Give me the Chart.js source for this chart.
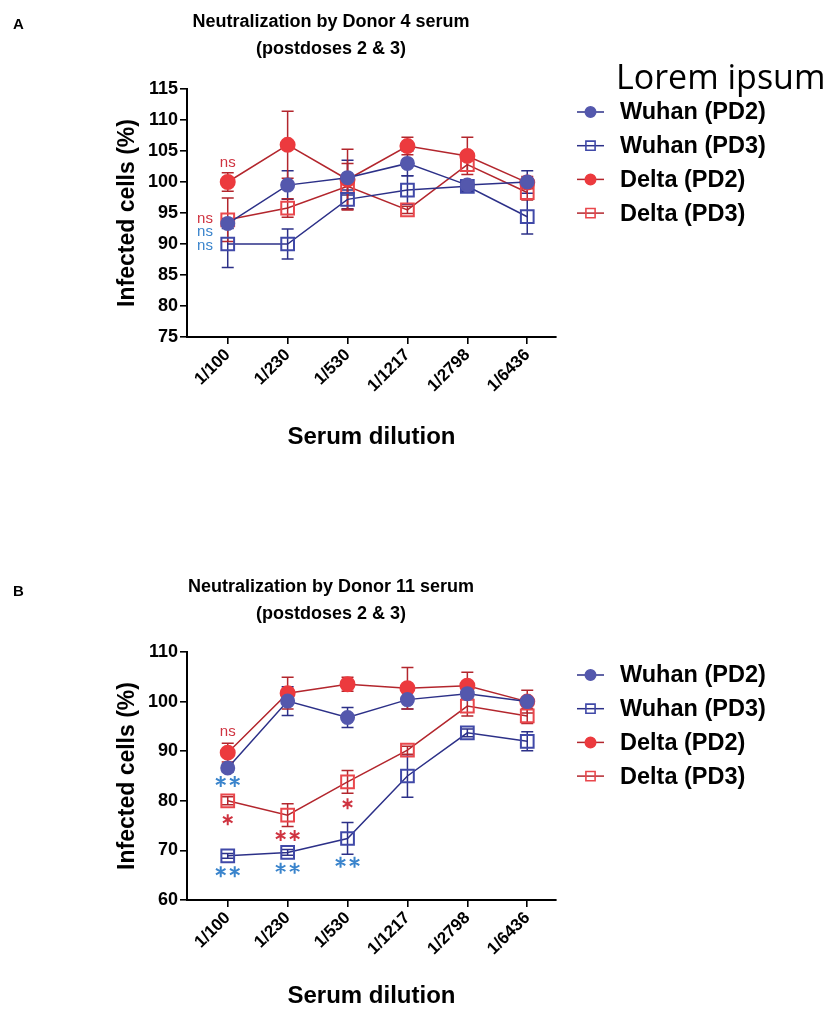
<!DOCTYPE html>
<html lang="en">
<head>
<meta charset="utf-8">
<title>Neutralization by Donor serum</title>
<script src="https://cdn.jsdelivr.net/npm/chart.js@4.4.1/dist/chart.umd.min.js"></script>
<style>
  html, body { margin: 0; padding: 0; background: #fff; }
  #wrap { position: relative; width: 831px; height: 1011px; }
  canvas { position: absolute; left: 0; }
  #panelA { top: 0; }
  #panelB { top: 500px; }
</style>
</head>
<body>
<div id="wrap">
  <canvas id="panelA" width="831" height="500"></canvas>
  <canvas id="panelB" width="831" height="511"></canvas>
</div>
<script>
// Categorías (diluciones) y nombres de series
const dilutions = ['1/100', '1/230', '1/530', '1/1217', '1/2798', '1/6436'];
const seriesNames = ['Wuhan (PD2)', 'Wuhan (PD3)', 'Delta (PD2)', 'Delta (PD3)'];

// Panel A - Donor 4
const yTicksA = [75, 80, 85, 90, 95, 100, 105, 110, 115];
const wuhanPD2A = [93.3, 99.5, 100.7, 103.0, 99.5, 100.0];
const wuhanPD2ErrA = [0.8, 2.3, 2.8, 2.0, 0.8, 1.8];
const wuhanPD3A = [90.0, 90.0, 97.2, 98.7, 99.3, 94.4];
const wuhanPD3ErrA = [3.8, 2.4, 1.5, 2.3, 0.8, 2.8];
const deltaPD2A = [100.0, 106.0, 100.4, 105.8, 104.2, 99.9];
const deltaPD2ErrA = [1.5, 5.4, 4.9, 1.4, 3.0, 1.0];
const deltaPD3A = [93.9, 95.8, 99.3, 95.5, 102.8, 98.3];
const deltaPD3ErrA = [3.5, 1.5, 3.7, 0.6, 1.0, 1.2];

// Panel B - Donor 11
const yTicksB = [60, 70, 80, 90, 100, 110];
const wuhanPD2B = [86.6, 100.1, 96.8, 100.4, 101.6, 100.0];
const wuhanPD2ErrB = [0.8, 2.9, 2.0, 1.9, 1.0, 0.8];
const wuhanPD3B = [68.9, 69.6, 72.4, 85.0, 93.7, 92.0];
const wuhanPD3ErrB = [0.5, 0.6, 3.2, 4.3, 0.8, 1.9];
const deltaPD2B = [89.7, 101.7, 103.5, 102.7, 103.2, 100.0];
const deltaPD2ErrB = [1.9, 3.2, 1.4, 4.2, 2.7, 2.3];
const deltaPD3B = [80.0, 77.1, 83.8, 90.2, 99.1, 97.1];
const deltaPD3ErrB = [0.8, 2.3, 2.3, 0.8, 2.0, 1.5];

// Anotaciones de significancia (x = índice de dilución, y = valor del eje)
const RED_TXT = '#cf3340';
const BLUE_TXT = '#3a84cc';
const notesA = [
  { x: 0, y: 103.1, text: 'ns', color: RED_TXT },
  { x: -0.38, y: 94.0, text: 'ns', color: RED_TXT },
  { x: -0.38, y: 92.0, text: 'ns', color: BLUE_TXT },
  { x: -0.38, y: 89.7, text: 'ns', color: BLUE_TXT }
];
const notesB = [
  { x: 0, y: 93.8, text: 'ns', color: RED_TXT },
  { x: 0, y: 83.9, text: '**', color: BLUE_TXT },
  { x: 0, y: 76.2, text: '*', color: RED_TXT },
  { x: 0, y: 65.7, text: '**', color: BLUE_TXT },
  { x: 1, y: 73.0, text: '**', color: RED_TXT },
  { x: 1, y: 66.4, text: '**', color: BLUE_TXT },
  { x: 2, y: 79.4, text: '*', color: RED_TXT },
  { x: 2, y: 67.6, text: '**', color: BLUE_TXT }
];

const FONT = '"Liberation Sans", Arial, Helvetica, sans-serif';
Chart.defaults.font.family = FONT;

// Estilos de cada serie
const seriesStyles = [
  { line: '#2c3088', point: '#5458ad', fill: '#5458ad', pointStyle: 'circle', radius: 6.5 },
  { line: '#2c3088', point: '#4049a8', fill: 'rgba(0,0,0,0)', pointStyle: 'rect', radius: 9 },
  { line: '#b3262d', point: '#ec3a3e', fill: '#ec3a3e', pointStyle: 'circle', radius: 7 },
  { line: '#b3262d', point: '#e9474c', fill: 'rgba(0,0,0,0)', pointStyle: 'rect', radius: 9 }
];

function buildDatasets(values, errors) {
  return values.map((vals, s) => {
    const st = seriesStyles[s];
    return {
      label: seriesNames[s],
      data: vals.map((v, i) => ({ x: i, y: v })),
      errors: errors[s],
      borderColor: st.line,
      borderWidth: 1.5,
      pointStyle: st.pointStyle,
      pointRadius: st.radius,
      pointHoverRadius: st.radius,
      pointBorderWidth: 2,
      pointBorderColor: st.point,
      pointBackgroundColor: st.fill,
      tension: 0,
      fill: false
    };
  });
}

// Plugin: barras de error
const errorBarsPlugin = {
  id: 'errorBars',
  beforeDatasetsDraw(chart) {
    const { ctx, scales: { x, y } } = chart;
    chart.data.datasets.forEach(ds => {
      if (!ds.errors) return;
      ctx.save();
      ctx.strokeStyle = ds.borderColor;
      ctx.lineWidth = 1.5;
      ds.data.forEach((p, i) => {
        const e = ds.errors[i];
        const px = x.getPixelForValue(p.x);
        const top = y.getPixelForValue(p.y + e);
        const bot = y.getPixelForValue(p.y - e);
        ctx.beginPath();
        ctx.moveTo(px, top); ctx.lineTo(px, bot);
        ctx.moveTo(px - 6, top); ctx.lineTo(px + 6, top);
        ctx.moveTo(px - 6, bot); ctx.lineTo(px + 6, bot);
        ctx.stroke();
      });
      ctx.restore();
    });
  }
};

function drawStar(ctx, cx, cy, r) {
  for (let k = 0; k < 3; k++) {
    const a = Math.PI / 2 + k * Math.PI / 3;
    ctx.moveTo(cx - r * Math.cos(a), cy - r * Math.sin(a));
    ctx.lineTo(cx + r * Math.cos(a), cy + r * Math.sin(a));
  }
}

// Plugin: anotaciones ns / asteriscos
const notesPlugin = {
  id: 'notes',
  afterDatasetsDraw(chart, args, opts) {
    const { ctx, scales: { x, y } } = chart;
    (opts.items || []).forEach(n => {
      const px = x.getPixelForValue(n.x);
      const py = y.getPixelForValue(n.y);
      ctx.save();
      if (n.text === 'ns') {
        ctx.fillStyle = n.color;
        ctx.font = '15px ' + FONT;
        ctx.textAlign = 'center';
        ctx.textBaseline = 'middle';
        ctx.fillText(n.text, px, py);
      } else {
        ctx.strokeStyle = n.color;
        ctx.lineWidth = 2;
        ctx.beginPath();
        const count = n.text.length;
        for (let k = 0; k < count; k++) {
          drawStar(ctx, px + (k - (count - 1) / 2) * 14, py, 5.5);
        }
        ctx.stroke();
      }
      ctx.restore();
    });
  }
};

// Plugin: letra del panel, título y leyenda
const decorPlugin = {
  id: 'decor',
  afterDraw(chart, args, o) {
    const ctx = chart.ctx;
    ctx.save();
    ctx.fillStyle = '#000';
    ctx.textBaseline = 'middle';

    ctx.font = 'bold 15px ' + FONT;
    ctx.textAlign = 'left';
    ctx.fillText(o.letter, 13, o.letterY);

    ctx.font = 'bold 18px ' + FONT;
    ctx.textAlign = 'center';
    o.title.forEach((t, i) => ctx.fillText(t, 331, o.titleY + i * 27));

    if (o.header) {
      ctx.font = '34px "Open Sans", "Noto Sans", sans-serif';
      ctx.textAlign = 'left';
      ctx.fillText(o.header, 616, o.headerY);
    }

    chart.data.datasets.forEach((ds, i) => {
      const ry = o.legendY + i * 33.7;
      ctx.strokeStyle = ds.borderColor;
      ctx.lineWidth = 1.5;
      ctx.beginPath();
      ctx.moveTo(577, ry); ctx.lineTo(604, ry);
      ctx.stroke();

      ctx.fillStyle = ds.pointBackgroundColor;
      ctx.strokeStyle = ds.pointBorderColor;
      ctx.lineWidth = 1.6;
      const r = ds.pointStyle === 'rect' ? 6.5 : 5.2;
      Chart.helpers.drawPoint(ctx, { pointStyle: ds.pointStyle, radius: r, borderWidth: 1.6, rotation: 0 }, 590.5, ry);

      ctx.fillStyle = '#000';
      ctx.font = 'bold 23.5px ' + FONT;
      ctx.textAlign = 'left';
      ctx.fillText(ds.label, 620, ry + 1);
    });
    ctx.restore();
  }
};

function makePanel(canvas, cfg) {
  const axisGrid = { drawOnChartArea: false, drawTicks: true, tickLength: 7, color: '#000', lineWidth: 1.6 };
  const axisBorder = { color: '#000', width: 2 };
  return new Chart(canvas.getContext('2d'), {
    type: 'line',
    data: { datasets: buildDatasets(cfg.values, cfg.errors) },
    plugins: [errorBarsPlugin, notesPlugin, decorPlugin],
    options: {
      responsive: false,
      animation: false,
      events: [],
      layout: { padding: { left: 0, right: 275, top: cfg.top, bottom: 0 } },
      plugins: {
        legend: { display: false },
        tooltip: { enabled: false },
        notes: { items: cfg.notes },
        decor: cfg.decor
      },
      scales: {
        x: {
          type: 'linear',
          min: -0.68,
          max: 5.48,
          afterBuildTicks: s => { s.ticks = dilutions.map((d, i) => ({ value: i })); },
          afterFit: s => { s.height = cfg.xAxisHeight; },
          ticks: {
            callback: v => dilutions[v] ?? '',
            autoSkip: false,
            minRotation: 45,
            maxRotation: 45,
            padding: 1,
            color: '#000',
            font: { size: 17, weight: 'bold' }
          },
          grid: axisGrid,
          border: axisBorder,
          title: {
            display: true,
            text: 'Serum dilution',
            color: '#000',
            font: { size: 24, weight: 'bold' },
            padding: { top: 0, bottom: cfg.xTitlePad }
          }
        },
        y: {
          min: cfg.yTicks[0],
          max: cfg.yTicks[cfg.yTicks.length - 1],
          afterBuildTicks: s => { s.ticks = cfg.yTicks.map(v => ({ value: v })); },
          afterFit: s => { s.width = 187; },
          ticks: { padding: 2, color: '#000', font: { size: 18, weight: 'bold' } },
          grid: axisGrid,
          border: axisBorder,
          title: {
            display: true,
            text: 'Infected cells (%)',
            color: '#000',
            font: { size: 23, weight: 'bold' },
            padding: { top: 114, bottom: 0 }
          }
        }
      }
    }
  });
}

document.addEventListener('DOMContentLoaded', () => {
  try {
    // 1. Panel A
    makePanel(document.getElementById('panelA'), {
      values: [wuhanPD2A, wuhanPD3A, deltaPD2A, deltaPD3A],
      errors: [wuhanPD2ErrA, wuhanPD3ErrA, deltaPD2ErrA, deltaPD3ErrA],
      yTicks: yTicksA,
      notes: notesA,
      top: 89,
      xAxisHeight: 163,
      xTitlePad: 48,
      decor: {
        letter: 'A', letterY: 25,
        title: ['Neutralization by Donor 4 serum', '(postdoses 2 & 3)'], titleY: 22,
        header: 'Lorem ipsum', headerY: 79,
        legendY: 112
      }
    });

    // 2. Panel B
    makePanel(document.getElementById('panelB'), {
      values: [wuhanPD2B, wuhanPD3B, deltaPD2B, deltaPD3B],
      errors: [wuhanPD2ErrB, wuhanPD3ErrB, deltaPD2ErrB, deltaPD3ErrB],
      yTicks: yTicksB,
      notes: notesB,
      top: 152,
      xAxisHeight: 111,
      xTitlePad: 0,
      decor: {
        letter: 'B', letterY: 92,
        title: ['Neutralization by Donor 11 serum', '(postdoses 2 & 3)'], titleY: 87,
        header: null,
        legendY: 175
      }
    });
  } catch (err) {
    console.error('[Chart] Error al dibujar:', err);
  }
});
</script>
</body>
</html>
